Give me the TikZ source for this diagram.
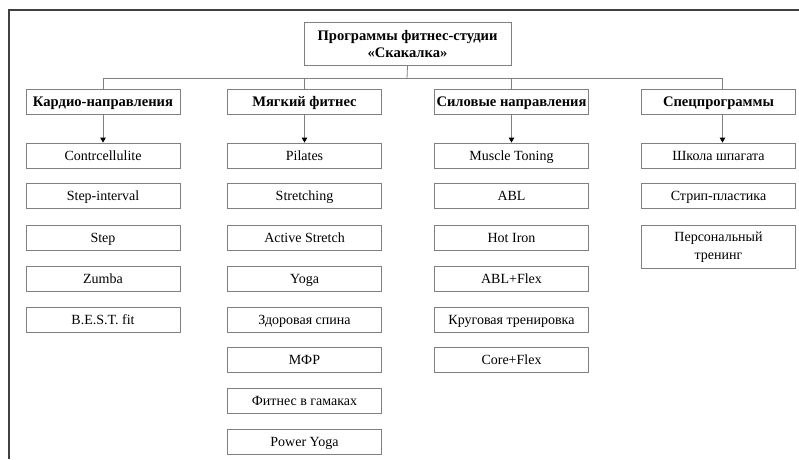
\documentclass[tikz,border=0pt]{standalone}
\usepackage{fontspec}
\setmainfont{Liberation Serif}
\usetikzlibrary{arrows.meta}

\tikzset{
  frame/.style={draw=gray, line width=0.8pt, minimum width=154pt, inner sep=2pt},
  box/.style={frame, minimum height=25pt, text height=10pt, text depth=0.5pt, font=\fontsize{14}{16}\selectfont},
  head/.style={box, font=\fontsize{14.6}{16}\selectfont\bfseries},
  conn/.style={gray, line width=0.8pt},
  arr/.style={conn, -{Triangle[length=5pt,width=5.5pt,black]}},
}

\begin{document}
\begin{tikzpicture}[x=1pt,y=-1pt]
\useasboundingbox (0,0) rectangle (799,459);

\draw[black!75,line width=1.5pt] (9,459) -- (9,10) -- (799,10); %frame

\node[frame, minimum width=207pt, minimum height=43pt, align=center, font=\fontsize{14.6}{17.5}\selectfont\bfseries] (title) at (407.5,44) {Программы фитнес-студии\\«Скакалка»};

\node[head] (kardio) at (103,101.5) {Кардио-направления};
\node[head] (myag) at (304.5,101.5) {Мягкий фитнес};
\node[head] (sil) at (511.5,101.5) {Силовые направления};
\node[head] (spec) at (718.5,101.5) {Спецпрограммы};

\coordinate (bus) at (407,78.5);
\draw[conn] (title.south) -- (bus);
\draw[conn] (kardio.north) |- (bus) -| ([xshift=4pt]spec.north);
\draw[conn] (myag.north) -- (myag.north |- bus);
\draw[conn] (sil.north) -- (sil.north |- bus);

% Кардио-направления
\node[box] (k1) at (103,155.5) {Contrcellulite};
\node[box] (k2) at (103,196) {Step-interval};
\node[box] (k3) at (103,237.5) {Step};
\node[box] (k4) at (103,278.5) {Zumba};
\node[box] (k5) at (103,319.5) {B.E.S.T. fit};

% Мягкий фитнес
\node[box] (m1) at (304.5,155.5) {Pilates};
\node[box] (m2) at (304.5,196) {Stretching};
\node[box] (m3) at (304.5,237.5) {Active Stretch};
\node[box] (m4) at (304.5,278.5) {Yoga};
\node[box] (m5) at (304.5,319.5) {Здоровая спина};
\node[box] (m6) at (304.5,360) {МФР};
\node[box] (m7) at (304.5,401) {Фитнес в гамаках};
\node[box] (m8) at (304.5,441.5) {Power Yoga};

% Силовые направления
\node[box] (s1) at (511.5,155.5) {Muscle Toning};
\node[box] (s2) at (511.5,196) {ABL};
\node[box] (s3) at (511.5,237.5) {Hot Iron};
\node[box] (s4) at (511.5,278.5) {ABL+Flex};
\node[box] (s5) at (511.5,319.5) {Круговая тренировка};
\node[box] (s6) at (511.5,360) {Core+Flex};

% Спецпрограммы
\node[box] (p1) at (718.5,155.5) {Школа шпагата};
\node[box] (p2) at (718.5,196) {Стрип-пластика};
\node[frame, minimum height=43pt, align=center, anchor=north, font=\fontsize{14}{18}\selectfont] (p3) at (718.5,225) {Персональный\\тренинг};

\draw[arr] (kardio) -- (k1);
\draw[arr] (myag) -- (m1);
\draw[arr] (sil) -- (s1);
\draw[arr] ([xshift=4pt]spec.south) -- ([xshift=4pt]p1.north);

\end{tikzpicture}
\end{document}
